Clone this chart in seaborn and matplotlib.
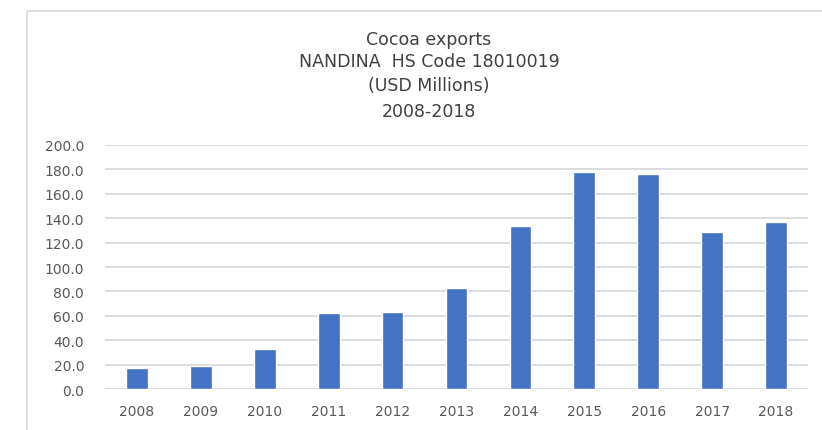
import matplotlib
matplotlib.use("Agg")
import matplotlib.pyplot as plt
import seaborn as sns
import pandas as pd
from matplotlib.lines import Line2D

years = ["2008", "2009", "2010", "2011", "2012", "2013", "2014", "2015", "2016", "2017", "2018"]
exports = [17.5, 19.1, 32.8, 62.3, 62.8, 82.5, 133.9, 178.1, 176.5, 128.4, 137.1]
yticks = [0, 20, 40, 60, 80, 100, 120, 140, 160, 180, 200]
title_lines = ["Cocoa exports", "NANDINA  HS Code 18010019", "(USD Millions)", "2008-2018"]

sns.set_theme(style="white")
plt.rcParams['font.family'] = ['DejaVu Sans']

df = pd.DataFrame({"year": years, "value": exports})

fig = plt.figure(figsize=(8.22, 4.31), dpi=100)
ax = fig.add_axes([105/822, 1-390/431, (808-105)/822, (390-146)/431])
sns.barplot(data=df, x="year", y="value", color="#4472C4", width=0.34,
            saturation=1, ax=ax, zorder=3)

ax.set_ylim(0, 200)
ax.set_xlim(-0.5, len(years) - 0.5)
ax.set_yticks(yticks)
ax.set_yticklabels([f"{v:.1f}" for v in yticks])
ax.yaxis.grid(True, color="#d9d9d9", linewidth=1.3, zorder=0)
ax.xaxis.grid(False)
for s in ax.spines.values():
    s.set_visible(False)
ax.axhline(0, color="#d9d9d9", linewidth=1.3, zorder=1)
ax.set_xlabel("")
ax.set_ylabel("")
ax.tick_params(axis="y", length=0, pad=15, labelsize=10, labelcolor="#595959")
ax.tick_params(axis="x", length=0, pad=11, labelsize=10, labelcolor="#595959")

ys = [40, 62, 86, 112]
for t, y in zip(title_lines, ys):
    fig.text(429/822, 1 - y/431, t, ha="center", va="center", fontsize=12.5, color="#404040")

# frame border lines
fig.add_artist(Line2D([27/822, 27/822], [0, 1 - 12/431], color="#d9d9d9", linewidth=1.2,
                      transform=fig.transFigure))
fig.add_artist(Line2D([27/822, 1], [1 - 12/431, 1 - 12/431], color="#d9d9d9", linewidth=1.2,
                      transform=fig.transFigure))

fig.savefig("out.png", dpi=100)
